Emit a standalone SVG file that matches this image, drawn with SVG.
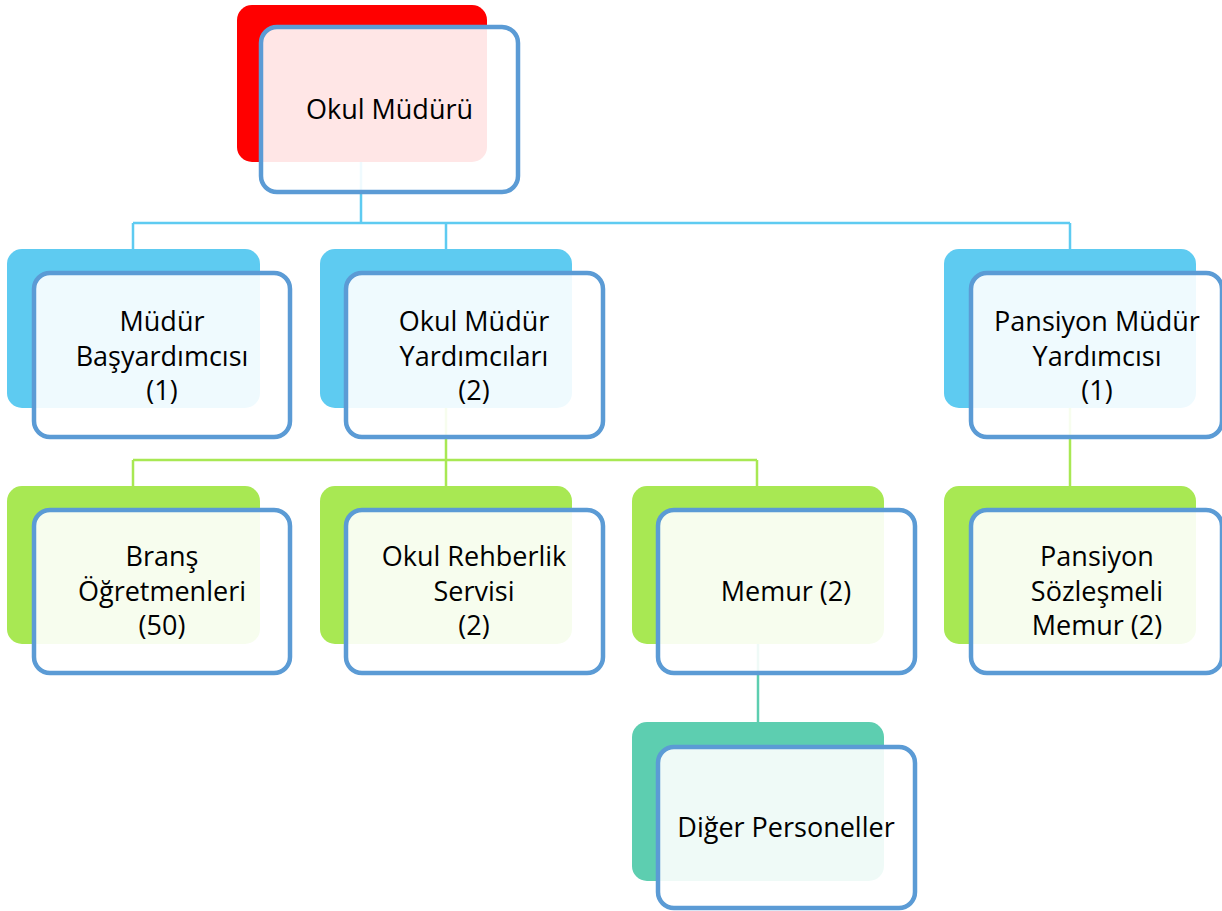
<svg xmlns="http://www.w3.org/2000/svg" width="1222" height="911" viewBox="0 0 1222 911">
<style>
.bg{stroke:none}
.red{fill:#ff0000}
.blue{fill:#5ecbf1}
.green{fill:#a8e853}
.teal{fill:#5dceb0}
.front{fill:#ffffff;fill-opacity:0.9;stroke:#5b9bd5;stroke-width:4.5}
.lbl{font-family:"Open Sans","Liberation Sans",sans-serif;font-size:27px;fill:#000000;text-anchor:middle}
.cb{stroke:#5ecbf1;stroke-width:2.5;fill:none}
.cg{stroke:#a8e853;stroke-width:2.5;fill:none}
.ct{stroke:#5dceb0;stroke-width:2.5;fill:none}
</style>
<rect width="1222" height="911" fill="#ffffff"/>
<g id="connectors">
<path class="cb" d="M361,162 V223 M133,223 H1070 M133,223 V250 M446,223 V250 M1070,223 V250"/>
<path class="cg" d="M446,408 V460 M133,460 H757 M133,460 V487 M446,460 V487 M757,460 V487"/>
<path class="cg" d="M1070,408 V487"/>
<path class="ct" d="M758,644 V723"/>
</g>
<g id="n-okul-muduru">
<rect class="bg red" x="237" y="5" width="250" height="157" rx="15"/>
<rect class="front" x="261" y="27" width="257" height="165" rx="16"/>
<text class="lbl" x="389.5" y="119">Okul Müdürü</text>
</g>
<g id="n-mudur-basyardimcisi">
<rect class="bg blue" x="7" y="249" width="253" height="159" rx="15"/>
<rect class="front" x="34" y="273" width="256" height="164" rx="16"/>
<text class="lbl" x="162" y="331">Müdür</text>
<text class="lbl" x="162" y="365.5">Başyardımcısı</text>
<text class="lbl" x="162" y="400">(1)</text>
</g>
<g id="n-okul-mudur-yardimcilari">
<rect class="bg blue" x="320" y="249" width="252" height="159" rx="15"/>
<rect class="front" x="346" y="273" width="257" height="164" rx="16"/>
<text class="lbl" x="474" y="331">Okul Müdür</text>
<text class="lbl" x="474" y="365.5">Yardımcıları</text>
<text class="lbl" x="474" y="400">(2)</text>
</g>
<g id="n-pansiyon-mudur-yardimcisi">
<rect class="bg blue" x="944" y="249" width="252" height="159" rx="15"/>
<rect class="front" x="971" y="273" width="251" height="164" rx="16"/>
<text class="lbl" x="1097" y="331">Pansiyon Müdür</text>
<text class="lbl" x="1097" y="365.5">Yardımcısı</text>
<text class="lbl" x="1097" y="400">(1)</text>
</g>
<g id="n-brans-ogretmenleri">
<rect class="bg green" x="7" y="486" width="253" height="158" rx="15"/>
<rect class="front" x="34" y="510" width="256" height="163" rx="16"/>
<text class="lbl" x="162" y="566">Branş</text>
<text class="lbl" x="162" y="600.5">Öğretmenleri</text>
<text class="lbl" x="162" y="635">(50)</text>
</g>
<g id="n-okul-rehberlik-servisi">
<rect class="bg green" x="320" y="486" width="252" height="158" rx="15"/>
<rect class="front" x="346" y="510" width="257" height="163" rx="16"/>
<text class="lbl" x="474" y="566">Okul Rehberlik</text>
<text class="lbl" x="474" y="600.5">Servisi</text>
<text class="lbl" x="474" y="635">(2)</text>
</g>
<g id="n-memur">
<rect class="bg green" x="632" y="486" width="252" height="158" rx="15"/>
<rect class="front" x="658" y="510" width="257" height="163" rx="16"/>
<text class="lbl" x="786" y="601">Memur (2)</text>
</g>
<g id="n-pansiyon-sozlesmeli-memur">
<rect class="bg green" x="944" y="486" width="252" height="158" rx="15"/>
<rect class="front" x="971" y="510" width="251" height="163" rx="16"/>
<text class="lbl" x="1097" y="566">Pansiyon</text>
<text class="lbl" x="1097" y="600.5">Sözleşmeli</text>
<text class="lbl" x="1097" y="635">Memur (2)</text>
</g>
<g id="n-diger-personeller">
<rect class="bg teal" x="632" y="722" width="252" height="159" rx="15"/>
<rect class="front" x="658" y="747" width="257" height="161" rx="16"/>
<text class="lbl" x="786" y="837">Diğer Personeller</text>
</g>
</svg>
